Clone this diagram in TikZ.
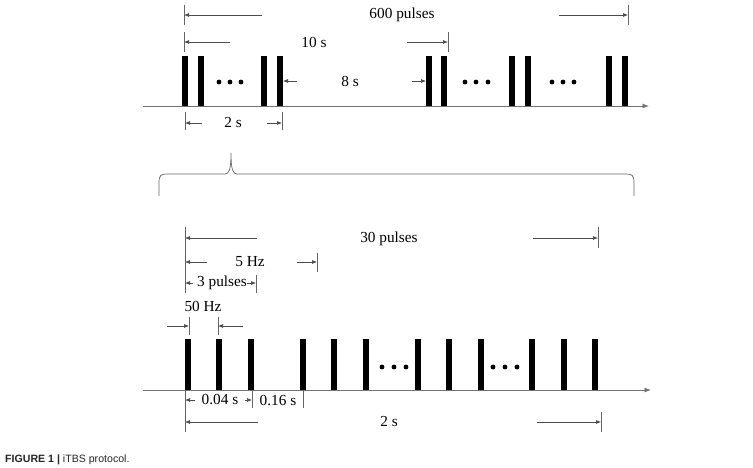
\documentclass[tikz,border=0pt]{standalone}
\usepackage{fontspec}
\setmainfont{Liberation Serif}
\newfontfamily\capfont{Liberation Sans}
\usetikzlibrary{arrows.meta}
\begin{document}
\begin{tikzpicture}[x=1pt,y=-1pt,
  lbl/.style={inner sep=0pt,font=\fontsize{15.3}{17}\selectfont},
  pulseA/.style={fill=black,draw=none},
  axisline/.style={draw=black!55,line width=0.9pt,-{Latex[length=6.5pt,width=5pt]}},
  tickline/.style={draw=black!60,line width=0.7pt},
  dimarrow/.style={draw=black!70,line width=0.65pt,-{Latex[length=5pt,width=4pt]}},
  bracestyle/.style={draw=black!60,line width=0.7pt},
  dotmark/.style={circle,fill=black,inner sep=0pt,minimum size=4.8pt}]
\useasboundingbox (0,0) rectangle (753,468);
\fill[white] (0,0) rectangle (753,468);

% ---------- top train ----------
\coordinate (ta0) at (143,106);
\coordinate (ta1) at (649,106);
\draw[axisline] (ta0) -- (ta1);
\foreach \x/\n in {185/1,201/2,264/3,280/4,429/5,444/6,512/7,528/8,609/9,625/10}
  \fill[pulseA] (\x-2.7,56) rectangle (\x+2.7,106);
\foreach \x/\n in {219/1,230/2,241/3,465/4,476/5,488/6,552/7,563/8,574/9}
  \node[dotmark] (td\n) at (\x,82) {};

% 600 pulses
\coordinate (t600a) at (184,5);  \coordinate (t600b) at (184,25);
\coordinate (t600c) at (628,5);  \coordinate (t600d) at (628,25);
\draw[tickline] (t600a) -- (t600b);
\draw[tickline] (t600c) -- (t600d);
\node[lbl] (l600) at (402,15) {600 pulses};
\coordinate (a600l) at (262,15); \coordinate (a600le) at (184,15);
\coordinate (a600r) at (559,15); \coordinate (a600re) at (628,15);
\draw[dimarrow] (a600l) -- (a600le);
\draw[dimarrow] (a600r) -- (a600re);

% 10 s
\coordinate (t10a) at (184,32);  \coordinate (t10b) at (184,52);
\coordinate (t10c) at (448,32);  \coordinate (t10d) at (448,52);
\draw[tickline] (t10a) -- (t10b);
\draw[tickline] (t10c) -- (t10d);
\node[lbl] (l10) at (314,42) {10 s};
\coordinate (a10l) at (230,42); \coordinate (a10le) at (184,42);
\coordinate (a10r) at (407,42); \coordinate (a10re) at (448,42);
\draw[dimarrow] (a10l) -- (a10le);
\draw[dimarrow] (a10r) -- (a10re);

% 8 s
\node[lbl] (l8) at (350,81) {8 s};
\coordinate (a8l) at (297,81); \coordinate (a8le) at (283,81);
\coordinate (a8r) at (412,81); \coordinate (a8re) at (426,81);
\draw[dimarrow] (a8l) -- (a8le);
\draw[dimarrow] (a8r) -- (a8re);

% 2 s (top)
\coordinate (t2a) at (185,112);  \coordinate (t2b) at (185,130);
\coordinate (t2c) at (282,112);  \coordinate (t2d) at (282,130);
\draw[tickline] (t2a) -- (t2b);
\draw[tickline] (t2c) -- (t2d);
\node[lbl] (l2top) at (233,123) {2 s};
\coordinate (a2l) at (202,123); \coordinate (a2le) at (185,123);
\coordinate (a2r) at (267,123); \coordinate (a2re) at (282,123);
\draw[dimarrow] (a2l) -- (a2le);
\draw[dimarrow] (a2r) -- (a2re);

% ---------- brace ----------
\coordinate (bl) at (159,196);
\coordinate (bm) at (231,153);
\coordinate (br) at (634,196);
\draw[bracestyle] (bl) -- (159,183) .. controls (159,175) and (161,174) .. (167,174)
  -- (225,174) .. controls (229,174) and (231,170) .. (bm)
  .. controls (231,170) and (233,174) .. (237,174)
  -- (626,174) .. controls (632,174) and (634,175) .. (634,183) -- (br);

% ---------- bottom train ----------
\coordinate (ba0) at (143,390);
\coordinate (ba1) at (651,390);
\draw[axisline] (ba0) -- (ba1);
\foreach \x in {188,219,251,303,334,366,418,449,481,532,564,595}
  \fill[pulseA] (\x-3.3,339) rectangle (\x+3.3,390);
\foreach \x/\n in {382/1,394/2,406/3,493/4,505/5,517/6}
  \node[dotmark] (bd\n) at (\x,367) {};

% left long tick (upper)
\coordinate (bt0a) at (185,227); \coordinate (bt0b) at (185,293);
\draw[tickline] (bt0a) -- (bt0b);

% 30 pulses
\coordinate (t30c) at (598,227); \coordinate (t30d) at (598,248);
\draw[tickline] (t30c) -- (t30d);
\node[lbl] (l30) at (389,239) {30 pulses};
\coordinate (a30l) at (257,238); \coordinate (a30le) at (185,238);
\coordinate (a30r) at (533,238); \coordinate (a30re) at (598,238);
\draw[dimarrow] (a30l) -- (a30le);
\draw[dimarrow] (a30r) -- (a30re);

% 5 Hz
\coordinate (t5c) at (317,253); \coordinate (t5d) at (317,272);
\draw[tickline] (t5c) -- (t5d);
\node[lbl] (l5) at (250,262) {5 Hz};
\coordinate (a5l) at (207,262); \coordinate (a5le) at (185,262);
\coordinate (a5r) at (297,262); \coordinate (a5re) at (317,262);
\draw[dimarrow] (a5l) -- (a5le);
\draw[dimarrow] (a5r) -- (a5re);

% 3 pulses
\coordinate (t3c) at (256,275); \coordinate (t3d) at (256,293);
\draw[tickline] (t3c) -- (t3d);
\node[lbl] (l3) at (222,283) {3 pulses};
\coordinate (a3l) at (193,283); \coordinate (a3le) at (185,283);
\coordinate (a3r) at (247,283); \coordinate (a3re) at (256,283);
\draw[dimarrow] (a3l) -- (a3le);
\draw[dimarrow] (a3r) -- (a3re);

% 50 Hz
\node[lbl] (l50) at (203,306) {50 Hz};
\coordinate (t50a) at (189,317); \coordinate (t50b) at (189,335);
\coordinate (t50c) at (218,317); \coordinate (t50d) at (218,335);
\draw[tickline] (t50a) -- (t50b);
\draw[tickline] (t50c) -- (t50d);
\coordinate (a50l) at (167,326); \coordinate (a50le) at (189,326);
\coordinate (a50r) at (243,326); \coordinate (a50re) at (218,326);
\draw[dimarrow] (a50l) -- (a50le);
\draw[dimarrow] (a50r) -- (a50re);

% below axis
\coordinate (bt1a) at (185,390); \coordinate (bt1b) at (185,432);
\draw[tickline] (bt1a) -- (bt1b);
\coordinate (bt2a) at (252,390); \coordinate (bt2b) at (252,408);
\draw[tickline] (bt2a) -- (bt2b);
\coordinate (bt3a) at (303,390); \coordinate (bt3b) at (303,408);
\draw[tickline] (bt3a) -- (bt3b);
\coordinate (bt4a) at (601,412); \coordinate (bt4b) at (601,432);
\draw[tickline] (bt4a) -- (bt4b);

\node[lbl] (l004) at (220,400) {0.04 s};
\coordinate (a04l) at (195,400); \coordinate (a04le) at (185,400);
\coordinate (a04r) at (245,400); \coordinate (a04re) at (252,400);
\draw[dimarrow] (a04l) -- (a04le);
\draw[dimarrow] (a04r) -- (a04re);
\node[lbl] (l016) at (278,401) {0.16 s};

\node[lbl] (l2bot) at (389,422) {2 s};
\coordinate (a2bl) at (258,422); \coordinate (a2ble) at (185,422);
\coordinate (a2br) at (537,422); \coordinate (a2bre) at (601,422);
\draw[dimarrow] (a2bl) -- (a2ble);
\draw[dimarrow] (a2br) -- (a2bre);

% caption
\node[anchor=west,inner sep=0pt,font=\capfont\fontsize{10.6}{12}\selectfont,text=black!85] (cap) at (5,460)
  {\textbf{FIGURE 1 |} iTBS protocol.};
\end{tikzpicture}
\end{document}
